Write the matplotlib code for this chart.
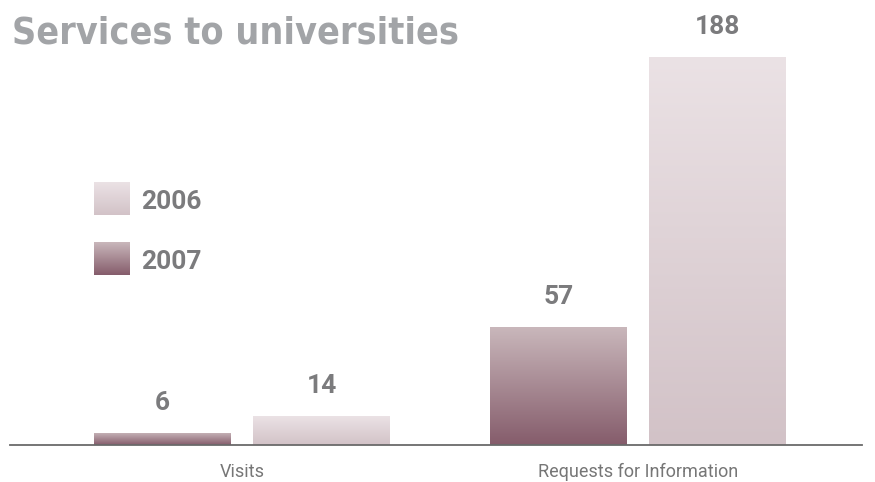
import numpy as np
import matplotlib.pyplot as plt
from matplotlib.colors import LinearSegmentedColormap

# данные
categories = ['Visits', 'Requests for Information']
years = ['2007', '2006']
values_2007 = [6, 57]
values_2006 = [14, 188]

# градиенты (сверху вниз)
grad_2006 = LinearSegmentedColormap.from_list('g2006', ['#ebe2e5', '#d2c2c7'])
grad_2007 = LinearSegmentedColormap.from_list('g2007', ['#c9b7bb', '#855c6b'])

fig = plt.figure(figsize=(8.75, 4.82), dpi=100)
ax = fig.add_axes([10 / 875, 37 / 482, 852 / 875, 445 / 482])

x = np.arange(len(categories))
w = 0.346
off = 0.2008
gradient = np.linspace(0, 1, 256).reshape(-1, 1)


def gradient_bars(xs, vals, cmap):
    bars = ax.bar(xs, vals, w, color='none', edgecolor='none')
    for b in bars:
        x0, y0 = b.get_x(), b.get_y()
        img = ax.imshow(gradient, cmap=cmap, aspect='auto', origin='upper',
                        extent=[x0, x0 + b.get_width(), y0, y0 + b.get_height()],
                        zorder=2)
        img.set_clip_path(b)
    for xi, v in zip(xs, vals):
        ax.annotate(str(v), (xi, v), xytext=(0, 21.5), textcoords='offset points',
                    ha='center', va='center', fontsize=19, fontweight='bold',
                    color='#7b7b7d', family='Roboto')
    return bars


gradient_bars(x - off, values_2007, grad_2007)
gradient_bars(x + off, values_2006, grad_2006)

ax.set_xlim(-0.586, 1.566)
ax.set_ylim(0, 215.6)
for s in ['top', 'right', 'left']:
    ax.spines[s].set_visible(False)
ax.spines['bottom'].set_color('#6a6a6a')
ax.spines['bottom'].set_linewidth(1.3)
ax.set_yticks([])
ax.set_xticks(x)
ax.set_xticklabels(categories, fontsize=13, color='#767676', family='Roboto')
ax.tick_params(axis='x', length=0, pad=13)

# заголовок
fig.text(12 / 875, 1 - 33 / 482, 'Services to universities', ha='left', va='center',
         fontsize=27, fontweight='bold', color='#a2a4a7',
         family='DejaVu Sans', fontstretch='condensed')

# легенда
for label, cmap, top in [('2006', grad_2006, 182), ('2007', grad_2007, 242)]:
    sw = fig.add_axes([94 / 875, (482 - top - 33) / 482, 36 / 875, 33 / 482])
    sw.imshow(gradient, cmap=cmap, aspect='auto')
    sw.axis('off')
    fig.text(141 / 875, 1 - (top + 20) / 482, label, ha='left', va='center',
             fontsize=19, fontweight='bold', color='#7b7b7d', family='Roboto')

fig.savefig('out.png', dpi=100)
